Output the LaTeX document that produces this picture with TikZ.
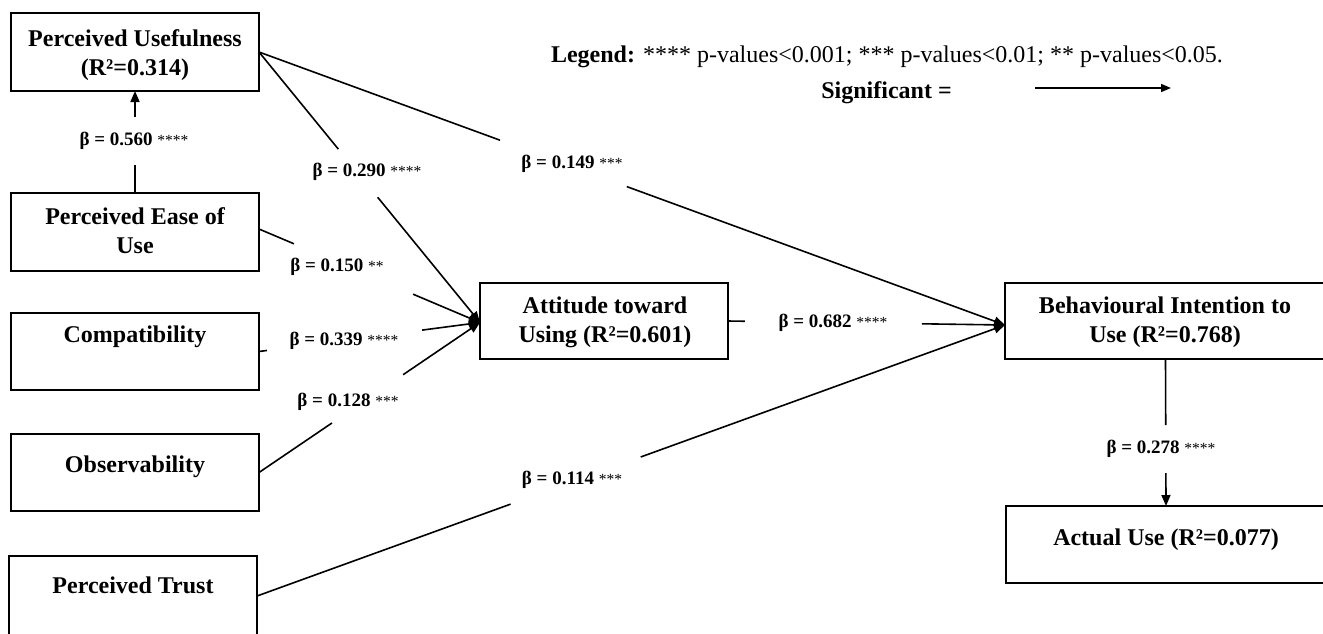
\documentclass[tikz,border=0pt]{standalone}
\usepackage{fontspec}
\setmainfont{Liberation Serif}
\usetikzlibrary{arrows.meta,calc}
\newcommand\betastars[1]{{\fontsize{15.5}{16}\selectfont\mdseries #1}}
\begin{document}
\begin{tikzpicture}[x=1pt,y=-1pt,
  box/.style={draw,line width=1.9pt,minimum width=248pt,minimum height=78pt,inner sep=0pt,outer sep=0pt},
  ttl/.style={font=\fontsize{24}{29}\selectfont\bfseries,align=center,anchor=base,inner sep=0pt},
  beta/.style={font=\fontsize{19}{22}\selectfont\bfseries,anchor=base,inner sep=0pt},
  conn/.style={line width=1.6pt},
  arr/.style={conn,-{Triangle[length=11pt,width=9pt]}},
]
\fill[white] (0,0) rectangle (1323,633);
\clip (0,0) rectangle (1323,633);

% boxes
\node[box] (pu) at (135,52) {};
\node[box] (peou) at (135,232) {};
\node[box,minimum height=77pt] (comp) at (135,351.5) {};
\node[box,minimum height=77pt] (obs) at (135,472.5) {};
\node[box,minimum height=80pt] (pt) at (133,596) {};
\node[box,minimum height=76pt] (att) at (604,321) {};
\node[box,minimum width=321pt,minimum height=76pt] (bi) at (1165.5,321) {};
\node[box,minimum width=320pt,minimum height=77pt] (au) at (1166,544.5) {};

% box texts (anchor=base is the baseline of the last line)
\node[ttl] (pu-t) at (135,75) {Perceived Usefulness\\(R²=0.314)};
\node[ttl] (peou-t) at (135,253) {Perceived Ease of\\Use};
\node[ttl] (comp-t) at (135,342) {Compatibility};
\node[ttl] (obs-t) at (135,472) {Observability};
\node[ttl] (pt-t) at (133,593) {Perceived Trust};
\node[ttl] (att-t) at (605,342) {Attitude toward\\Using (R²=0.601)};
\node[ttl] (bi-t) at (1165,342) {Behavioural Intention to\\Use (R²=0.768)};
\node[ttl] (au-t) at (1166,545) {Actual Use (R²=0.077)};

% beta labels
\node[beta] (l560) at (134,145) {β = 0.560 \betastars{****}};
\node[beta] (l290) at (367,176) {β = 0.290 \betastars{****}};
\node[beta] (l149) at (572,168) {β = 0.149 \betastars{***}};
\node[beta] (l150) at (337,271) {β = 0.150 \betastars{**}};
\node[beta] (l339) at (344,345) {β = 0.339 \betastars{****}};
\node[beta] (l128) at (348,406) {β = 0.128 \betastars{***}};
\node[beta] (l114) at (572,484) {β = 0.114 \betastars{***}};
\node[beta] (l682) at (833,327) {β = 0.682 \betastars{****}};
\node[beta] (l278) at (1161,453) {β = 0.278 \betastars{****}};

% endpoints
\coordinate (ain) at ([yshift=-1.5pt]att.west);
\coordinate (bin) at ([yshift=-4pt]bi.west);
\coordinate (peouo) at ([yshift=3pt]peou.east);

% PEOU -> PU
\draw[conn] (peou.north) -- ($(peou.north)!0.275!(pu.south)$);
\draw[arr] ($(peou.north)!0.745!(pu.south)$) -- (pu.south);
% PU -> ATT
\draw[conn] (pu.east) -- ($(pu.east)!0.359!(ain)$);
\draw[arr] ($(pu.east)!0.537!(ain)$) -- (ain);
% PU -> BI
\draw[conn] (pu.east) -- ($(pu.east)!0.323!(bin)$);
\draw[arr] ($(pu.east)!0.493!(bin)$) -- (bin);
% PEOU -> ATT
\draw[conn] (peouo) -- ($(peouo)!0.158!(ain)$);
\draw[arr] ($(peouo)!0.697!(ain)$) -- (ain);
% COMP -> ATT
\draw[conn] (comp.east) -- ($(comp.east)!0.036!(ain)$);
\draw[arr] ($(comp.east)!0.738!(ain)$) -- (ain);
% OBS -> ATT
\draw[conn] (obs.east) -- ($(obs.east)!0.33!(ain)$);
\draw[arr] ($(obs.east)!0.652!(ain)$) -- (ain);
% PT -> BI
\draw[conn] (pt.east) -- ($(pt.east)!0.339!(bin)$);
\draw[arr] ($(pt.east)!0.513!(bin)$) -- (bin);
% ATT -> BI
\draw[conn] (att.east) -- ($(att.east)!0.061!(bin)$);
\draw[arr] ($(att.east)!0.70!(bin)$) -- (bin);
% BI -> AU
\draw[conn] (bi.south) -- ($(bi.south)!0.449!(au.north)$);
\draw[arr] ($(bi.south)!0.776!(au.north)$) -- (au.north);

% legend
\node[anchor=base,inner sep=0pt,font=\fontsize{24}{29}\selectfont] (leg) at (887,62) {\textbf{Legend:} **** p-values<0.001; *** p-values<0.01; ** p-values<0.05.};
\node[anchor=base,inner sep=0pt,font=\fontsize{24}{29}\selectfont\bfseries] (sig) at (886.5,98) {Significant =};
\coordinate (s1) at (1035,88);
\coordinate (s2) at (1171,88);
\draw[conn,-{Triangle[length=10pt,width=8pt]}] (s1) -- (s2);
\end{tikzpicture}
\end{document}
